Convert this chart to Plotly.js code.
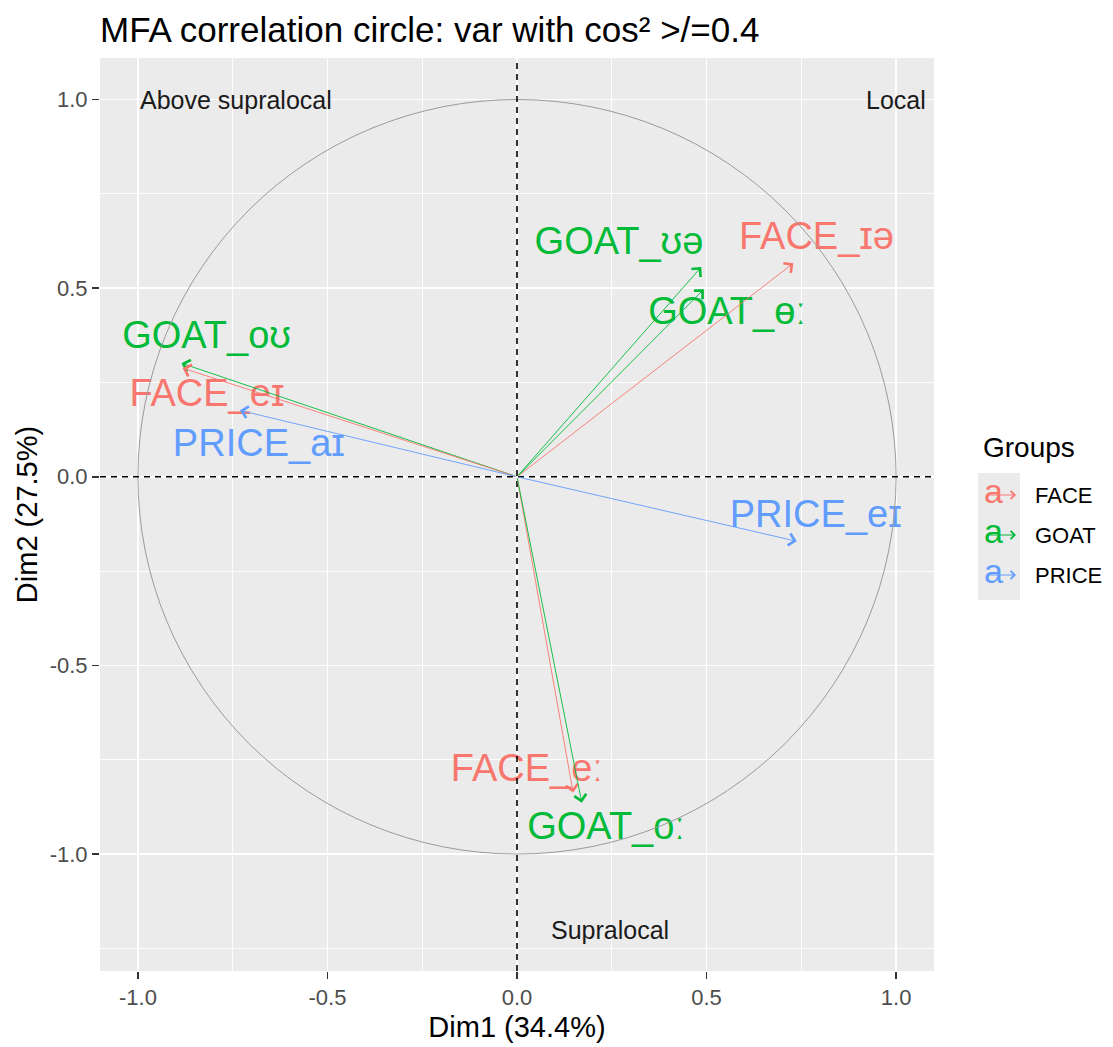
<!DOCTYPE html>
<html><head><meta charset="utf-8">
<script src="https://cdn.plot.ly/plotly-3.0.1.min.js"></script>
<style>body{margin:0;background:#fff}</style>
</head><body><div id="chart" style="width:1113px;height:1047px"></div>
<script>
// ---- data ----
const variables = ['FACE_ɪə','GOAT_ʊə','GOAT_ɵː','GOAT_oʊ','FACE_eɪ','PRICE_aɪ','PRICE_eɪ','FACE_eː','GOAT_oː'];
const groups    = ['FACE','GOAT','GOAT','GOAT','FACE','PRICE','PRICE','FACE','GOAT'];
const dim1      = [0.729, 0.486, 0.493, -0.885, -0.882, -0.731, 0.738, 0.148, 0.171];
const dim2      = [0.566, 0.556, 0.497, 0.301, 0.288, 0.176, -0.171, -0.837, -0.864];
const labelX    = [0.790, 0.269, 0.554, -0.819, -0.818, -0.681, 0.788, 0.026, 0.235];
const labelY    = [0.628, 0.615, 0.429, 0.366, 0.212, 0.079, -0.109, -0.781, -0.935];
const groupNames  = ['FACE','GOAT','PRICE'];
const groupColors = ['#F8766D','#00BA38','#619CFF'];
const tickVals  = [-1.0, -0.5, 0.0, 0.5, 1.0];
const tickText  = ['-1.0','-0.5','0.0','0.5','1.0'];
const regionLabels = ['Above supralocal','Local','Supralocal'];
const regionX   = [-0.74, 1.0, 0.245];
const regionY   = [1.0, 1.0, -1.2];
const legendTitle = 'Groups';

const FONT = 'Liberation Sans, Arial, DejaVu Sans, sans-serif';
const colorOf = g => groupColors[groupNames.indexOf(g)];

// plot-area geometry (pixels) used to place legend decorations in paper coords
const L = 100, R = 179, T = 58, B = 76, W = 1113, H = 1047;
const PW = W - L - R, PH = H - T - B;
const px = v => (v - L) / PW;          // pixel x -> paper x
const py = v => (H - B - v) / PH;      // pixel y -> paper y

// text labels (one trace per group)
const traces = groupNames.map((g, gi) => {
  const idx = groups.map((x, i) => x === g ? i : -1).filter(i => i >= 0);
  return {
    type: 'scatter', mode: 'text', name: g, legendgroup: g, showlegend: false,
    x: idx.map(i => labelX[i]), y: idx.map(i => labelY[i]),
    text: idx.map(i => variables[i]),
    textposition: 'middle center',
    textfont: {family: FONT, size: 38, color: groupColors[gi]},
    hoverinfo: 'skip', cliponaxis: false
  };
});
// legend entries (key glyphs drawn as annotations below)
groupNames.forEach((g, gi) => traces.push({
  type: 'scatter', mode: 'lines', name: g, legendgroup: g, showlegend: true,
  x: [null], y: [null], line: {color: groupColors[gi], width: 0}, hoverinfo: 'skip'
}));

// arrows from origin to each variable
const annotations = variables.map((v, i) => ({
  x: dim1[i], y: dim2[i], xref: 'x', yref: 'y',
  ax: 0, ay: 0, axref: 'x', ayref: 'y',
  text: '', showarrow: true, arrowhead: 4, arrowsize: 2.6, arrowwidth: 0.9,
  arrowcolor: colorOf(groups[i]), standoff: 0
}));
regionLabels.forEach((t, i) => annotations.push({
  x: regionX[i], y: regionY[i], xref: 'x', yref: 'y', text: t, showarrow: false,
  xanchor: 'center', yanchor: 'middle',
  font: {family: FONT, size: 25, color: '#1a1a1a'}
}));
// legend title
annotations.push({
  x: px(981), y: py(447), xref: 'paper', yref: 'paper', text: legendTitle,
  showarrow: false, xanchor: 'left', yanchor: 'middle',
  font: {family: FONT, size: 28, color: '#000'}
});
// legend key glyphs: "a" with a small arrow
const keyY = [495, 535, 575];
groupNames.forEach((g, gi) => {
  annotations.push({
    x: px(1016), y: py(keyY[gi]), xref: 'paper', yref: 'paper',
    ax: -28, ay: 0, text: '', showarrow: true, arrowhead: 4, arrowsize: 1.6,
    arrowwidth: 1, arrowcolor: groupColors[gi], standoff: 0
  });
  annotations.push({
    x: px(993), y: py(keyY[gi] - 4), xref: 'paper', yref: 'paper', text: 'a',
    showarrow: false, xanchor: 'center', yanchor: 'middle',
    font: {family: FONT, size: 34, color: groupColors[gi]}
  });
});

const shapes = [
  {type: 'circle', xref: 'x', yref: 'y', x0: -1, x1: 1, y0: -1, y1: 1,
   line: {color: '#9a9a9a', width: 1}, layer: 'above'},
  {type: 'line', xref: 'paper', yref: 'y', x0: 0, x1: 1, y0: 0, y1: 0,
   line: {color: '#000', width: 1.6, dash: '6px,5px'}, layer: 'above'},
  {type: 'line', xref: 'x', yref: 'paper', x0: 0, x1: 0, y0: 0, y1: 1,
   line: {color: '#000', width: 1.6, dash: '6px,5px'}, layer: 'above'},
  // legend key background
  {type: 'rect', xref: 'paper', yref: 'paper', x0: px(978), x1: px(1020),
   y0: py(600), y1: py(473), fillcolor: '#EBEBEB', line: {width: 0}, layer: 'below'}
];

const axisCommon = {
  tickvals: tickVals, ticktext: tickText,
  ticks: 'outside', ticklen: 7, tickwidth: 1.5, tickcolor: '#333333',
  tickfont: {family: FONT, size: 22, color: '#4D4D4D'},
  showgrid: true, gridcolor: '#FFFFFF', gridwidth: 1.8,
  minor: {dtick: 0.25, tick0: 0.25, showgrid: true, gridcolor: '#FFFFFF', gridwidth: 0.9, ticks: ''},
  zeroline: false, showline: false, fixedrange: true
};

const layout = {
  width: W, height: H,
  margin: {l: L, r: R, t: T, b: B, autoexpand: false},
  paper_bgcolor: '#FFFFFF', plot_bgcolor: '#EBEBEB',
  title: {text: 'MFA correlation circle: var with cos² >/=0.4',
          x: 100/W, xref: 'container', xanchor: 'left',
          y: 1 - 30/H, yref: 'container', yanchor: 'middle',
          font: {family: FONT, size: 35, color: '#000'}},
  xaxis: Object.assign({}, axisCommon, {range: [-1.1, 1.1],
          title: {text: 'Dim1 (34.4%)', standoff: 7, font: {family: FONT, size: 29, color: '#000'}}}),
  yaxis: Object.assign({}, axisCommon, {range: [-1.31, 1.11],
          title: {text: 'Dim2 (27.5%)', standoff: 3, font: {family: FONT, size: 29, color: '#000'}}}),
  showlegend: true,
  legend: {x: px(981), xanchor: 'left', y: py(474), yanchor: 'top',
           bgcolor: 'rgba(0,0,0,0)', itemwidth: 44,
           font: {family: FONT, size: 22, color: '#000'},
           traceorder: 'grouped', tracegroupgap: 8},
  annotations: annotations, shapes: shapes
};

Plotly.newPlot('chart', traces, layout, {staticPlot: true});
</script></body></html>
